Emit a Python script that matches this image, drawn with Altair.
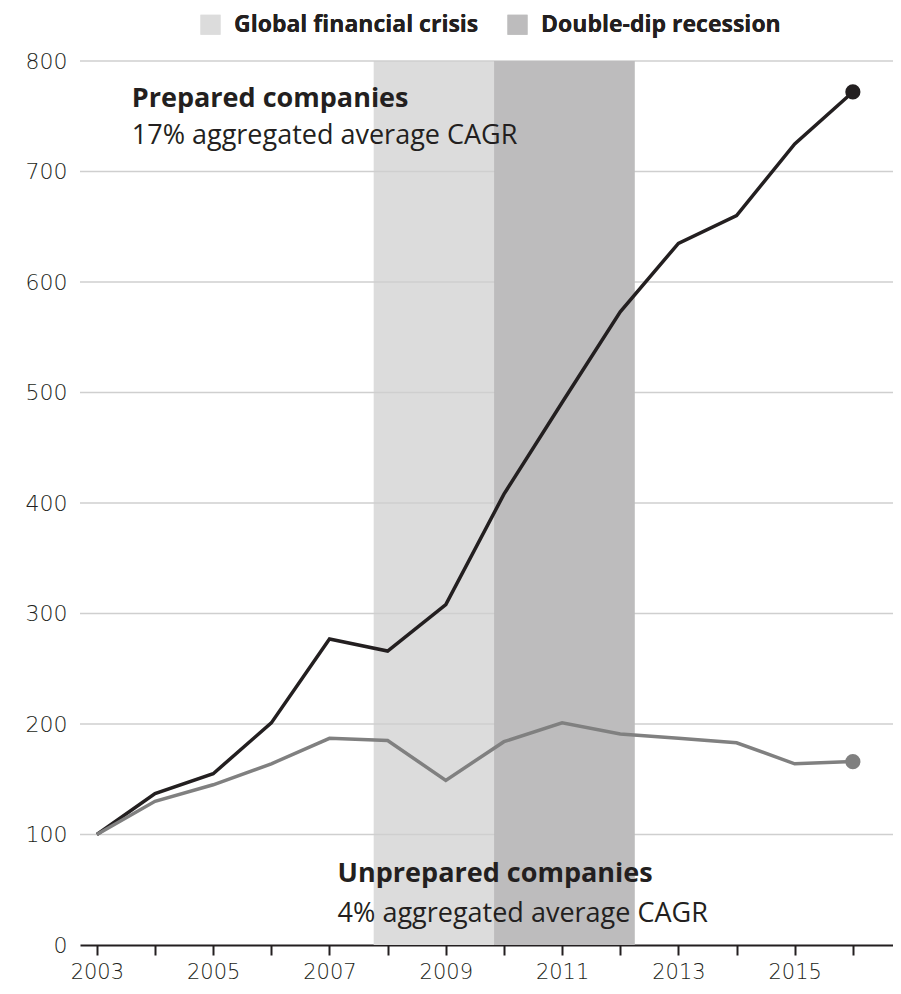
import altair as alt
import pandas as pd

years = list(range(2003, 2017))
prepared = [100, 137, 155, 201, 277, 266, 308, 408, 491, 573, 635, 660, 725, 772]
unprepared = [100, 130, 145, 164, 187, 185, 149, 184, 201, 191, 187, 183, 164, 166]

band_labels = ["Global financial crisis", "Double-dip recession"]
band_start = [2007.76, 2009.83]
band_end = [2009.83, 2012.25]
band_colors = ["#dcdcdc", "#bdbcbd"]

grid_values = [100, 200, 300, 400, 500, 600, 700, 800]
y_ticks = [0, 100, 200, 300, 400, 500, 600, 700, 800]

series_names = ["Prepared companies", "Unprepared companies"]
series_colors = ["#231f20", "#808080"]

ann_titles = ["Prepared companies", "Unprepared companies"]
ann_subs = ["17% aggregated average CAGR", "4% aggregated average CAGR"]
ann_x = [2003.60, 2007.14]
ann_title_y = [758, 57]
ann_sub_y = [725, 21]

FONT = "Open Sans"
AXFONT = "DejaVu Sans"
TXT = "#231f20"

lines_df = pd.DataFrame({
    "year": years * 2,
    "value": prepared + unprepared,
    "series": [series_names[0]] * len(years) + [series_names[1]] * len(years),
})
bands_df = pd.DataFrame({"label": band_labels, "start": band_start, "end": band_end})
grid_df = pd.DataFrame({"v": grid_values})
ann_df = pd.DataFrame({"title": ann_titles, "sub": ann_subs, "x": ann_x,
                       "ty": ann_title_y, "sy": ann_sub_y})

xscale = alt.Scale(domain=[2002.71, 2016.69], nice=False, zero=False)
yscale = alt.Scale(domain=[0, 800], nice=False)

color_band = alt.Color(
    "label:N",
    scale=alt.Scale(domain=band_labels, range=band_colors),
    legend=alt.Legend(
        title=None, orient="none", legendX=119, legendY=-48, direction="horizontal",
        symbolType="square", symbolSize=400, symbolStrokeWidth=0,
        labelFont=FONT, labelFontSize=23, labelFontWeight="bold", labelColor=TXT,
        labelOffset=12, columnPadding=27, padding=0, labelLimit=0,
    ),
)

def band_layer(lbl):
    return alt.Chart(bands_df).transform_filter(alt.datum.label == lbl).mark_rect().encode(
        x=alt.X("start:Q", scale=xscale,
                axis=alt.Axis(values=years, title=None, grid=False,
                              labelExpr="datum.value % 2 == 1 ? datum.value : ''",
                              domainColor="#231f20", domainWidth=2,
                              tickColor="#231f20", tickWidth=2, tickSize=10,
                              labelFont=AXFONT, labelFontSize=21, labelFontWeight=300,
                              labelColor="#231f20", labelPadding=6, labelFlush=False)),
        x2="end:Q",
        y=alt.Y(datum=0, scale=yscale,
                axis=alt.Axis(values=y_ticks, title=None, grid=False, domain=False,
                              ticks=False, labelFont=AXFONT, labelFontSize=22,
                              labelFontWeight=300, labelColor="#231f20",
                              labelPadding=13)),
        y2=alt.Y2(datum=800),
        color=color_band,
    )

light = band_layer(band_labels[0])
dark = band_layer(band_labels[1])

grid = alt.Chart(grid_df).mark_rule(color="#cfcfcf", strokeWidth=1.5).encode(
    y=alt.Y("v:Q", scale=yscale)
)

lines = alt.Chart(lines_df).mark_line(strokeWidth=3.5, strokeJoin="miter").encode(
    x=alt.X("year:Q", scale=xscale),
    y=alt.Y("value:Q", scale=yscale),
    color=alt.Color("series:N", scale=alt.Scale(domain=series_names, range=series_colors),
                    legend=None),
)

points = alt.Chart(lines_df).transform_filter(alt.datum.year == 2016).mark_circle(
    size=230, opacity=1).encode(
    x=alt.X("year:Q", scale=xscale),
    y=alt.Y("value:Q", scale=yscale),
    color=alt.Color("series:N", scale=alt.Scale(domain=series_names, range=series_colors),
                    legend=None),
)

ann_title = alt.Chart(ann_df).mark_text(
    align="left", baseline="alphabetic", font=FONT, fontSize=27, fontWeight="bold",
    color=TXT).encode(
    x=alt.X("x:Q", scale=xscale), y=alt.Y("ty:Q", scale=yscale), text="title:N")

ann_sub = alt.Chart(ann_df).mark_text(
    align="left", baseline="alphabetic", font=FONT, fontSize=27, fontWeight="normal",
    color=TXT).encode(
    x=alt.X("x:Q", scale=xscale), y=alt.Y("sy:Q", scale=yscale), text="sub:N")

chart = alt.layer(light, grid, dark, lines, points, ann_title, ann_sub).properties(
    width=813, height=884,
    autosize=alt.AutoSizeParams(type="none"),
    padding={"left": 72, "top": 53, "right": 0, "bottom": 41},
).configure_view(stroke=None).resolve_scale(color="independent")

chart.save("out.html", embed_options={"renderer": "svg", "actions": False})
